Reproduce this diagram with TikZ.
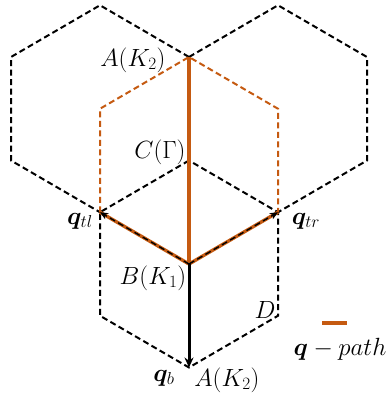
\documentclass[tikz,border=0pt]{standalone}
\usepackage{amsmath, bm}
\usetikzlibrary{positioning, arrows.meta}
\definecolor{qorange}{RGB}{197,90,17}

\begin{document}
\begin{tikzpicture}[x=1pt, y=-1pt, >={Stealth[length=10pt, width=9pt]},
    hexline/.style={draw, dash pattern=on 6pt off 3.5pt, line width=2pt},
    bzline/.style={draw=qorange, dash pattern=on 6pt off 3.5pt, line width=2pt},
    qpath/.style={draw=qorange, line width=3.4pt},
    lbl/.style={inner sep=0pt, font=\fontsize{24}{28}\selectfont}]

    \useasboundingbox (0,0) rectangle (390,394);

    % lattice points
    \coordinate (A) at (189,57);
    \coordinate (C) at (189,160.5);
    \coordinate (B) at (189,264);
    \coordinate (Ab) at (189,367.5);
    \coordinate (ul) at (100,108.75);
    \coordinate (ur) at (278,108.75);
    \coordinate (tl) at (100,212.25);
    \coordinate (tr) at (278,212.25);
    \coordinate (bl) at (100,315.75);
    \coordinate (br) at (278,315.75);

    % black dashed hexagons
    \draw[hexline] (A) -- (100,5.25) -- (11,57) -- (11,160.5) -- (tl);
    \draw[hexline] (A) -- (278,5.25) -- (367,57) -- (367,160.5) -- (tr);
    \draw[hexline] (C) -- (tl) -- (bl) -- (Ab) -- (br) -- (tr) -- cycle;

    % first Brillouin zone
    \draw[bzline] (tl) -- (ul) -- (A) -- (ur) -- (tr);

    % q-path
    \draw[qpath] (A) -- (B);
    \draw[qpath] (B) -- (tl);
    \draw[qpath] (B) -- (tr);
    \draw[-{Stealth[length=8pt, width=7pt]}, dash pattern=on 6pt off 3.5pt, line width=1.4pt] (B) -- (tl);
    \draw[-{Stealth[length=8pt, width=7pt]}, dash pattern=on 6pt off 3.5pt, line width=1.4pt] (B) -- (tr);
    \draw[->, line width=3pt] (B) -- (Ab);

    % labels
    \node[lbl] (lA) at (133,60) {$A(K_2)$};
    \node[lbl] (lC) at (160,152) {$C(\Gamma)$};
    \node[lbl] (lqtl) at (80,221) {$\bm{q}_{tl}$};
    \node[lbl] (lqtr) at (306,221) {$\bm{q}_{tr}$};
    \node[lbl] (lB) at (153,278) {$B(K_1)$};
    \node[lbl] (lD) at (265,310) {$D$};
    \node[lbl] (lqb) at (164,378) {$\bm{q}_b$};
    \node[lbl] (lAb) at (227,380) {$A(K_2)$};

    % legend
    \coordinate (leg1) at (322,323);
    \coordinate (leg2) at (347,323);
    \draw[qorange, line width=3.4pt] (leg1) -- (leg2);
    \node[lbl] (leg) at (340,349) {$\bm{q}-path$};
\end{tikzpicture}
\end{document}
